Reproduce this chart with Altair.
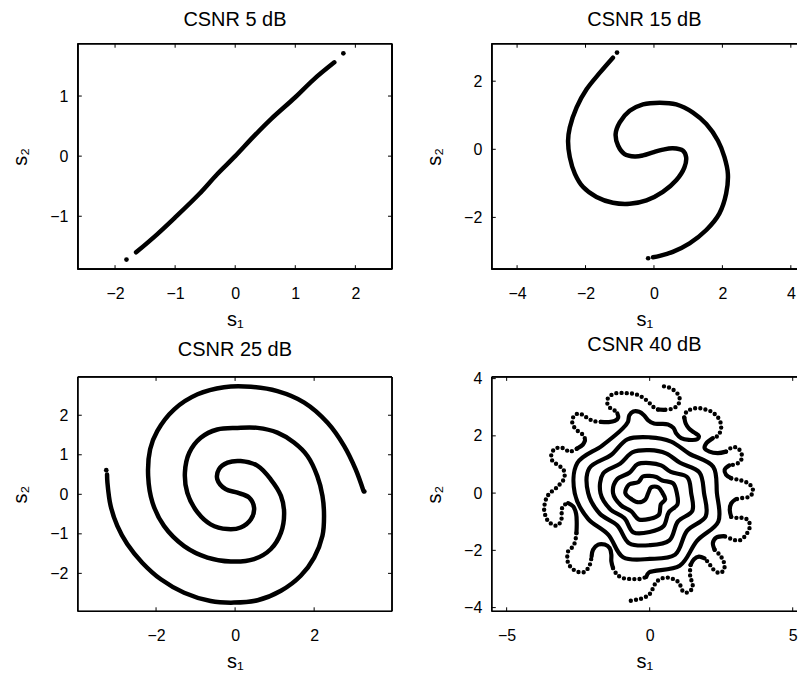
import math

import altair as alt
import pandas as pd

FONT = "Liberation Sans"

# ---------------- CSNR 5 dB ----------------
p5_s1 = [-1.65, -1.30, -1.00, -0.60, -0.30, 0.00, 0.30, 0.60, 1.00, 1.30, 1.65]
p5_s2 = [-1.60, -1.30, -1.02, -0.63, -0.30, 0.00, 0.32, 0.62, 0.98, 1.27, 1.56]
p5_dot_s1 = [-1.81, 1.80]
p5_dot_s2 = [-1.72, 1.71]

# ---------------- CSNR 15 dB ----------------
p15_s1 = [-1.20, -1.58, -1.97, -2.26, -2.46, -2.51, -2.46, -2.31, -2.07, -1.68, -1.20, -0.71,
          -0.22, 0.26, 0.65, 0.89, 0.94, 0.85, 0.55, 0.26, -0.03, -0.32, -0.56, -0.86, -1.05,
          -1.12, -1.00, -0.71, -0.32, 0.17, 0.65, 1.14, 1.53, 1.87, 2.06, 2.16, 2.11, 1.91,
          1.53, 1.04, 0.55, 0.17, -0.03]
p15_s2 = [2.69, 2.25, 1.76, 1.23, 0.64, 0.25, -0.23, -0.72, -1.11, -1.40, -1.57, -1.60,
          -1.50, -1.25, -0.91, -0.53, -0.23, -0.04, 0.03, -0.01, -0.09, -0.18, -0.21, -0.14, 0.11,
          0.45, 0.79, 1.13, 1.32, 1.37, 1.32, 1.08, 0.74, 0.25, -0.23, -0.72, -1.30, -1.89,
          -2.37, -2.76, -3.01, -3.13, -3.17]
p15_dot_s1 = [-1.08, -0.17]
p15_dot_s2 = [2.84, -3.20]

# ---------------- CSNR 25 dB ----------------
p25_s1 = [-3.24, -3.23, -3.15, -2.98, -2.73, -2.35, -1.88, -1.29, -0.62, -0.03, 0.57, 1.16,
          1.66, 2.00, 2.21, 2.25, 2.21, 2.08, 1.83, 1.49, 1.07, 0.57, 0.06, -0.45, -0.87,
          -1.16, -1.27, -1.21, -0.95, -0.62, -0.19, 0.14, 0.40, 0.48, 0.35, 0.06, -0.24,
          -0.45, -0.41, -0.19, 0.14, 0.57, 0.90, 1.16, 1.24, 1.16, 0.90, 0.48, -0.11, -0.70,
          -1.29, -1.80, -2.09, -2.20, -2.15, -1.97, -1.54, -0.95, -0.28, 0.40, 1.07, 1.75,
          2.34, 2.76, 3.05, 3.25]
p25_s2 = [0.50, 0.29, -0.29, -0.80, -1.26, -1.73, -2.15, -2.49, -2.70, -2.74, -2.68, -2.44,
          -2.06, -1.60, -1.05, -0.55, -0.04, 0.46, 0.97, 1.31, 1.56, 1.68, 1.68, 1.64, 1.43,
          1.05, 0.55, 0.04, -0.46, -0.76, -0.88, -0.84, -0.63, -0.34, -0.08, 0.04, 0.13,
          0.38, 0.63, 0.80, 0.84, 0.72, 0.38, -0.04, -0.46, -0.97, -1.39, -1.64, -1.70, -1.60,
          -1.31, -0.80, -0.21, 0.46, 1.14, 1.60, 2.15, 2.53, 2.71, 2.72, 2.61, 2.32,
          1.81, 1.22, 0.63, 0.08]
p25_dot_s1 = [-3.26, 3.27]
p25_dot_s2 = [0.61, 0.07]

# ---------------- CSNR 40 dB ----------------
# one continuous curve: from the top end round the outside (left, then bottom),
# inward to the centre, through the central S, and back out to the bottom end
p40_s1 = [
    # outer turn from the top end
    0.50, 0.67, 0.85, 0.99, 1.05, 1.00, 0.88, 0.71, 0.50, 0.29, 0.13, -0.01, -0.17,
    -0.35, -0.55, -0.78, -1.01, -1.22, -1.38, -1.48, -1.48, -1.40, -1.24, -1.13, -1.10,
    -1.22, -1.45, -1.71, -1.97, -2.17, -2.33, -2.50, -2.64, -2.71, -2.67, -2.56, -2.41,
    -2.29, -2.26, -2.34, -2.55, -2.79, -2.93, -3.08, -3.26, -3.38, -3.44, -3.42, -3.31,
    -3.16, -3.02, -2.97, -3.02, -3.16, -3.31, -3.48, -3.59, -3.66, -3.69, -3.64, -3.55,
    -3.40, -3.24, -3.13, -3.07, -3.08, -3.01, -2.85, -2.67, -2.57, -2.55, -2.56, -2.62,
    -2.73, -2.85, -2.88, -2.85, -2.73, -2.56, -2.33, -2.19, -2.09, -2.03, -1.98, -1.80,
    -1.57, -1.40, -1.34, -1.34, -1.28, -1.14, -0.93, -0.64, -0.35, -0.12, -0.02,
    # inner turns of the same arm
    1.05, 1.66, 2.40, 2.35, 2.22, 1.38, 0.75, 0.00, -0.78, -1.34, -2.11, -2.15, -1.74,
    -1.13, -0.72, 0.00, 0.69, 0.99, 1.49, 1.45, 1.32, 0.74, 0.40, 0.00, -0.42, -0.71,
    -1.15, -1.28, -1.01, -0.64, -0.38, 0.00, 0.32, 0.39, 0.54, 0.45,
    # central S
    0.30, 0.05, -0.05, -0.15, -0.38, -0.62,
    # inner turns of the other arm, outward
    -0.85, -0.72, -0.39, -0.24, 0.00, 0.23, 0.44, 0.82, 0.95, 0.97, 0.67, 0.48, 0.00,
    -0.57, -0.88, -1.37, -1.72, -1.63, -1.03, -0.59, 0.00, 0.57, 1.06, 1.74, 1.90, 1.96,
    1.31, 0.89, 0.00, -0.93, -1.45, -2.16, -2.62, -2.53, -1.66, -0.94,
    # outer turn out to the bottom end
    -0.76, -0.71, -0.57, -0.37, -0.20, -0.06, 0.15, 0.38, 0.64, 0.83, 0.93, 1.10, 1.37,
    1.66, 1.72, 1.55, 1.37, 1.26, 1.21, 1.28, 1.45, 1.69, 1.92, 2.15, 2.33, 2.44, 2.50,
    2.47, 2.38, 2.21, 1.98, 1.92, 2.09, 2.38, 2.67, 2.85, 3.02, 3.14, 3.22, 3.20, 3.06,
    2.79, 2.62, 2.67, 2.85, 3.08, 3.31, 3.49, 3.60, 3.59, 3.47, 3.23, 3.00, 2.85, 2.80,
    2.85, 3.08, 3.31, 3.47, 3.49, 3.37, 3.20, 3.02, 2.83, 2.59, 2.33, 2.21, 2.27, 2.44,
    2.56, 2.62, 2.56, 2.42, 2.22, 2.07, 1.92, 1.72, 1.55, 1.43, 1.41, 1.43, 1.50, 1.48,
    1.34, 1.17, 1.08, 0.97, 0.79, 0.58, 0.38, 0.24, 0.15, 0.07, -0.03, -0.17, -0.34,
    -0.49, -0.66]
p40_s2 = [
    3.73, 3.69, 3.59, 3.45, 3.28, 3.10, 2.99, 2.93, 2.91, 2.92, 3.01, 3.15, 3.29,
    3.40, 3.47, 3.49, 3.50, 3.48, 3.40, 3.27, 3.13, 2.99, 2.90, 2.78, 2.64,
    2.52, 2.48, 2.49, 2.52, 2.62, 2.73, 2.78, 2.70, 2.53, 2.36, 2.21, 2.10,
    1.99, 1.84, 1.69, 1.55, 1.45, 1.51, 1.59, 1.57, 1.48, 1.33, 1.16, 1.05,
    0.95, 0.83, 0.64, 0.45, 0.29, 0.14, 0.01, -0.13, -0.34, -0.57, -0.80, -0.98,
    -1.09, -1.14, -1.03, -0.83, -0.59, -0.43, -0.35, -0.47, -0.73, -1.06, -1.40, -1.74,
    -1.92, -2.03, -2.27, -2.44, -2.62, -2.73, -2.77, -2.67, -2.50, -2.21, -1.98, -1.80,
    -1.80, -1.92, -2.15, -2.38, -2.62, -2.85, -2.97, -3.00, -3.00, -2.93, -2.77,
    -2.54, -1.66, -0.99, 0.00, 0.92, 1.38, 1.80, 1.95, 1.88, 1.34, 0.87, 0.00, -0.72,
    -1.13, -1.75, -1.82, -1.65, -0.99, -0.62, 0.00, 0.55, 0.74, 0.97, 1.05, 1.01, 0.71,
    0.47, 0.00, -0.42, -0.64, -0.92, -0.90, -0.76, -0.39, -0.22, 0.00,
    0.20, 0.20, 0.00, -0.22, -0.32, -0.22,
    0.00, 0.30, 0.39, 0.58, 0.60, 0.56, 0.44, 0.34, 0.00, -0.40, -0.67, -1.16, -1.36,
    -1.37, -0.88, -0.57, 0.00, 0.68, 1.03, 1.43, 1.50, 1.39, 1.06, 0.72, 0.00, -0.81,
    -1.31, -2.15, -2.30, -2.24, -1.45, -0.89, 0.00, 1.05, 1.66, 2.26,
    2.49, 2.72, 2.85, 2.84, 2.72, 2.55, 2.43, 2.42, 2.40, 2.28, 2.08, 1.92, 1.86,
    1.88, 1.99, 2.12, 2.26, 2.43, 2.64, 2.83, 2.93, 2.97, 2.93, 2.85, 2.71, 2.56, 2.35,
    2.15, 2.00, 1.92, 1.74, 1.57, 1.45, 1.40, 1.45, 1.58, 1.60, 1.51, 1.34, 1.16, 1.03,
    0.97, 0.81, 0.64, 0.52, 0.47, 0.41, 0.31, 0.16, -0.01, -0.13, -0.17, -0.22, -0.36, -0.59,
    -0.83, -0.87, -0.87, -0.99, -1.22, -1.45, -1.63, -1.65, -1.59, -1.50, -1.55, -1.74, -1.98,
    -2.15, -2.33, -2.56, -2.73, -2.79, -2.66, -2.45, -2.28, -2.22, -2.31, -2.51, -2.78, -2.98,
    -3.15, -3.34, -3.47, -3.44, -3.24, -3.08, -2.99, -2.95, -3.00, -3.10, -3.24, -3.42, -3.56,
    -3.64, -3.70, -3.73, -3.76]


def runs(xs, ys, r_out):
    """Split a path into solid and dotted stretches; the sparse outer samples are dotted."""
    out = []
    seg, style = 0, None
    for k in range(len(xs) - 1):
        r = 0.5 * (math.hypot(xs[k], ys[k]) + math.hypot(xs[k + 1], ys[k + 1]))
        st = "dot" if (r_out and r >= r_out) else "solid"
        if st != style:
            seg += 1
            style = st
            out.append({"s1": xs[k], "s2": ys[k], "seg": seg, "k": k, "style": st})
        out.append({"s1": xs[k + 1], "s2": ys[k + 1], "seg": seg, "k": k + 1, "style": st})
    return out


def panel(title, curve, dots, xdom, ydom, xticks, yticks, w, h, title_offset, line_w,
          frame_right=True, r_out=None):
    curve_df = pd.DataFrame(runs(curve[0], curve[1], r_out))
    dot_df = pd.DataFrame({"s1": dots[0], "s2": dots[1]})

    xsc = alt.Scale(domain=xdom, nice=False, zero=False)
    ysc = alt.Scale(domain=ydom, nice=False, zero=False)
    xax = alt.Axis(values=xticks, format="d", title="s₁", ticks=False, domain=False, grid=False,
                   labelFont=FONT, labelFontSize=16, labelColor="black", labelPadding=16,
                   titleFont=FONT, titleFontSize=20, titleFontWeight="normal", titleColor="black",
                   titlePadding=8)
    yax = alt.Axis(values=yticks, format="d", title="s₂", ticks=False, domain=False, grid=False,
                   labelFont=FONT, labelFontSize=16, labelColor="black", labelPadding=10,
                   titleFont=FONT, titleFontSize=20, titleFontWeight="normal", titleColor="black",
                   titlePadding=19)

    base = alt.Chart(curve_df).encode(
        x=alt.X("s1:Q", scale=xsc, axis=xax),
        y=alt.Y("s2:Q", scale=ysc, axis=yax),
        detail="seg:N",
        order="k:Q",
    )
    solid = base.transform_filter(alt.datum.style == "solid").mark_line(
        color="black", strokeWidth=line_w, interpolate="catmull-rom",
        strokeCap="round", strokeJoin="round")
    layers = [solid]
    if r_out:
        layers.append(base.transform_filter(alt.datum.style == "dot").mark_line(
            color="black", strokeWidth=4.4, interpolate="catmull-rom",
            strokeCap="round", strokeDash=[0, 5.2]))
    if len(dots[0]):
        layers.append(alt.Chart(dot_df).mark_circle(color="black", opacity=1, size=22).encode(
            x=alt.X("s1:Q", scale=xsc), y=alt.Y("s2:Q", scale=ysc)))

    xt = pd.DataFrame({"t": xticks})
    yt = pd.DataFrame({"t": yticks})
    tick_style = dict(color="black", strokeWidth=1)
    # MATLAB-style inward ticks on the box edges
    layers += [
        alt.Chart(xt).mark_rule(**tick_style).encode(
            x=alt.X("t:Q", scale=xsc), y=alt.value(h), y2=alt.value(h - 4)),
        alt.Chart(xt).mark_rule(**tick_style).encode(
            x=alt.X("t:Q", scale=xsc), y=alt.value(0), y2=alt.value(4)),
        alt.Chart(yt).mark_rule(**tick_style).encode(
            y=alt.Y("t:Q", scale=ysc), x=alt.value(0), x2=alt.value(4)),
    ]
    box = dict(color="black", strokeWidth=1.2)
    layers += [
        alt.Chart(xt).mark_rule(**box).encode(x=alt.value(0), x2=alt.value(w), y=alt.value(0)),
        alt.Chart(xt).mark_rule(**box).encode(x=alt.value(0), x2=alt.value(w), y=alt.value(h)),
        alt.Chart(xt).mark_rule(**box).encode(y=alt.value(0), y2=alt.value(h), x=alt.value(0)),
    ]
    if frame_right:
        layers += [
            alt.Chart(yt).mark_rule(**tick_style).encode(
                y=alt.Y("t:Q", scale=ysc), x=alt.value(w - 4), x2=alt.value(w)),
            alt.Chart(xt).mark_rule(**box).encode(y=alt.value(0), y2=alt.value(h), x=alt.value(w)),
        ]

    return alt.layer(*layers).properties(
        width=w, height=h,
        title=alt.TitleParams(title, font=FONT, fontSize=20, fontWeight="normal",
                              color="black", offset=title_offset),
    )


c5 = panel("CSNR 5 dB", (p5_s1, p5_s2), (p5_dot_s1, p5_dot_s2),
           [-2.62, 2.61], [-1.88, 1.87], [-2, -1, 0, 1, 2], [-1, 0, 1], 315, 226, 13, 4.5)
c15 = panel("CSNR 15 dB", (p15_s1, p15_s2), (p15_dot_s1, p15_dot_s2),
            [-4.74, 4.18], [-3.52, 3.10], [-4, -2, 0, 2, 4], [-2, 0, 2], 306, 226, 13, 4.5,
            frame_right=False)
c25 = panel("CSNR 25 dB", (p25_s1, p25_s2), (p25_dot_s1, p25_dot_s2),
            [-3.98, 3.97], [-2.96, 2.97], [-2, 0, 2], [-2, -1, 0, 1, 2], 315, 235, 16, 4.5)
c40 = panel("CSNR 40 dB", (p40_s1, p40_s2), ([], []),
            [-5.52, 5.15], [-4.13, 4.06], [-5, 0, 5], [-4, -2, 0, 2, 4], 306, 235, 16, 4.2,
            frame_right=False, r_out=2.95)

chart = alt.concat(
    c5, c15, c25, c40, columns=2, spacing={"row": 108, "column": 100}, bounds="flush"
).properties(
    padding={"left": 10, "top": 9, "right": 0, "bottom": 0},
    background="white",
).configure_view(stroke=None)

chart.save("out.html", embed_options={"renderer": "svg", "actions": False})
